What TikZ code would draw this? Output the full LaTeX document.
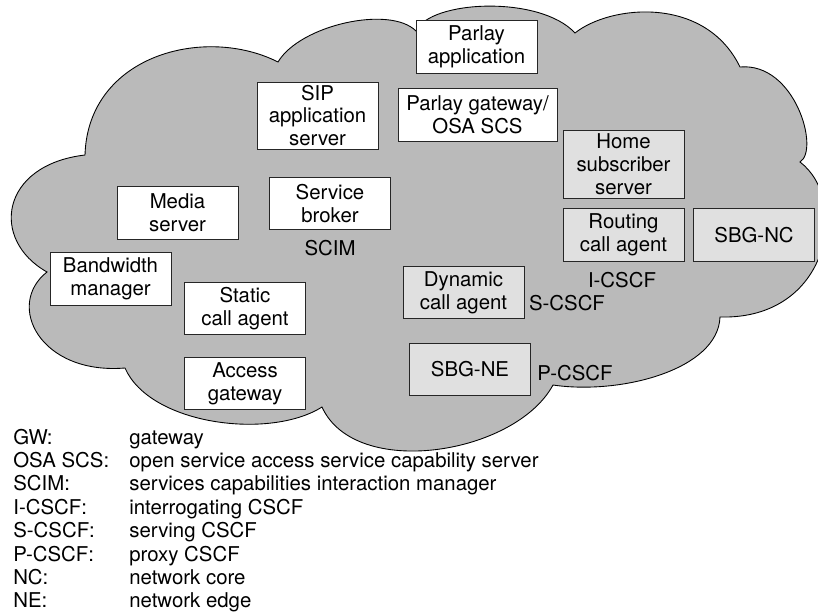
\documentclass[tikz,border=0pt]{standalone}
\usepackage{fontspec}
\setmainfont{TeX Gyre Heros}
\usepackage{xcolor}
\definecolor{cloudgray}{gray}{0.73}
\definecolor{boxgray}{gray}{0.88}

\begin{document}
\begin{tikzpicture}[x=0.02cm,y=0.02cm,
  font=\fontsize{11.6}{13}\selectfont,
  box/.style={draw=black!85, line width=0.5pt, fill=white, align=center,
    minimum width=2.42cm, minimum height=1.05cm, inner sep=1pt},
  shaded/.style={box, fill=boxgray},
  tag/.style={inner sep=0pt},
  legend/.style={anchor=base west, inner sep=0pt}]
\useasboundingbox (0,0) rectangle (818,-615);

% the cloud
\filldraw[fill=cloudgray, draw=black, line width=0.5pt]
  (47,-272) .. controls (-10,-240) and (0,-165) .. (85,-155)
  .. controls (88,-55) and (205,-25) .. (278,-62)
  .. controls (300,-25) and (390,-5) .. (416,-31)
  .. controls (430,0) and (540,5) .. (575,-33)
  .. controls (610,-5) and (705,5) .. (740,-67)
  .. controls (795,-62) and (820,-150) .. (800,-162)
  .. controls (850,-200) and (830,-320) .. (720,-317)
  .. controls (718,-370) and (620,-395) .. (553,-385)
  .. controls (515,-455) and (355,-480) .. (322,-407)
  .. controls (270,-440) and (150,-425) .. (125,-368)
  .. controls (40,-375) and (5,-305) .. (47,-272) -- cycle;

% application side
\node[box] (parlayapp) at (476.5,-47) {Parlay\\application};
\node[box, minimum width=3.18cm] (parlaygw) at (477.5,-115) {Parlay gateway/\\OSA SCS};
\node[box, minimum height=1.34cm] (sip) at (317.5,-115.5) {SIP\\application\\server};
\node[box] (media) at (177.5,-213) {Media\\server};
\node[box] (broker) at (330,-203.5) {Service\\broker};
\node[tag] (scim) at (330,-248) {SCIM};
\node[box] (bandwidth) at (110.5,-279) {Bandwidth\\manager};
\node[box] (static) at (245,-308.5) {Static\\call agent};
\node[box] (access) at (245,-383.5) {Access\\gateway};

% IMS side
\node[shaded, minimum height=1.36cm] (hss) at (623.5,-164) {Home\\subscriber\\server};
\node[shaded] (routing) at (623.5,-235) {Routing\\call agent};
\node[shaded] (sbgnc) at (754,-235) {SBG-NC};
\node[tag] (icscf) at (622,-280) {I-CSCF};
\node[shaded] (dynamic) at (463.5,-292.5) {Dynamic\\call agent};
\node[tag] (scscf) at (567,-303) {S-CSCF};
\node[shaded] (sbgne) at (470,-369.5) {SBG-NE};
\node[tag] (pcscf) at (575,-373) {P-CSCF};

% abbreviations
\foreach \abbr/\desc [count=\i] in {GW:/gateway,
    OSA SCS:/open service access service capability server,
    SCIM:/services capabilities interaction manager,
    I-CSCF:/interrogating CSCF,
    S-CSCF:/serving CSCF,
    P-CSCF:/proxy CSCF,
    NC:/network core,
    NE:/network edge}{
  \node[legend] (abbr\i) at (13,{-444-23.4*(\i-1)}) {\abbr};
  \node[legend] (desc\i) at (129,{-444-23.4*(\i-1)}) {\desc};
}
\end{tikzpicture}
\end{document}
